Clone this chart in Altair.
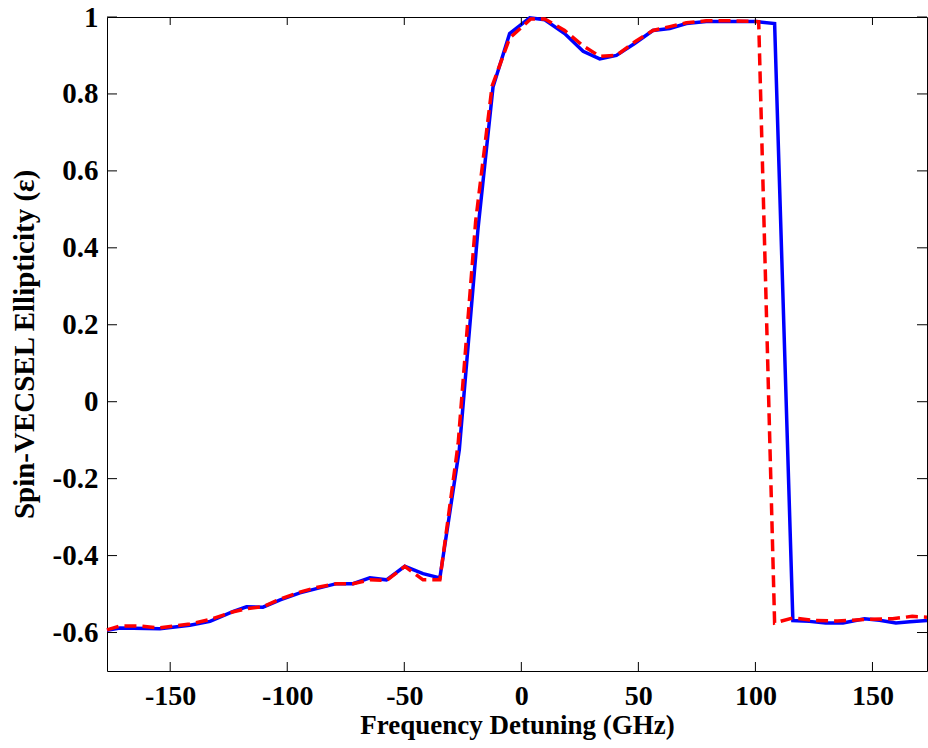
import altair as alt
import pandas as pd

# Blue solid curve
x_blue = [-177, -171.5, -154.4, -141.6, -133, -123, -117.4, -110.4, -103, -94.6,
          -87.5, -79, -71.9, -64.7, -57.6, -49.8, -42, -34.8, -26.5, -18.5,
          -12.1, -5, 3.6, 10, 18.5, 26.4, 33.5, 40.6, 48.4, 56.2,
          63.4, 70.5, 79, 90, 100.4, 108.2, 116, 123, 130, 137.4,
          146.6, 153, 160, 166, 173.3]
y_blue = [-0.594, -0.588, -0.590, -0.581, -0.571, -0.545, -0.533, -0.534, -0.515, -0.497,
          -0.486, -0.473, -0.473, -0.458, -0.463, -0.428, -0.447, -0.458, -0.125, 0.45,
          0.818, 0.957, 0.998, 0.993, 0.957, 0.911, 0.891, 0.900, 0.931, 0.965,
          0.970, 0.983, 0.988, 0.988, 0.988, 0.983, -0.569, -0.571, -0.575, -0.575,
          -0.564, -0.568, -0.575, -0.572, -0.569]

# Red dashed curve
x_red = [-177, -171.5, -163, -154.4, -141.6, -133, -123, -117.4, -110.4, -103,
         -94.6, -87.5, -79, -71.9, -64.7, -57.6, -49.8, -42, -34.8, -27,
         -19.5, -12.5, -5, 4, 10, 18.5, 26.4, 33.5, 40.6, 48.4,
         56.2, 63.4, 70.5, 79, 90, 101.4, 108.2, 116, 125.7, 135,
         146.6, 158.6, 167, 173.3]
y_red = [-0.593, -0.583, -0.583, -0.588, -0.578, -0.566, -0.546, -0.538, -0.533, -0.513,
         -0.495, -0.483, -0.473, -0.473, -0.463, -0.465, -0.428, -0.463, -0.463, -0.11,
         0.47, 0.82, 0.945, 0.995, 0.995, 0.965, 0.925, 0.898, 0.900, 0.935,
         0.965, 0.975, 0.985, 0.990, 0.990, 0.988, -0.575, -0.562, -0.569, -0.570,
         -0.566, -0.564, -0.558, -0.560]

x_ticks = [-150, -100, -50, 0, 50, 100, 150]
y_ticks = [-0.6, -0.4, -0.2, 0, 0.2, 0.4, 0.6, 0.8, 1]

W, H = 820, 654
FONT = "Liberation Serif"

blue_df = pd.DataFrame({"x": x_blue, "y": y_blue})
red_df = pd.DataFrame({"x": x_red, "y": y_red})
xt_df = pd.DataFrame({"x": x_ticks})
yt_df = pd.DataFrame({"y": y_ticks})

xs = alt.Scale(domain=[-177, 173.3], nice=False, zero=False)
ys = alt.Scale(domain=[-0.7, 1], nice=False, zero=False)

minus_fix = "replace(datum.label, '\u2212', '-')"

xaxis = alt.Axis(values=x_ticks, ticks=False, domain=False, grid=False, format="d",
                 labelFont=FONT, labelFontSize=28, labelFontWeight="bold",
                 labelColor="black", labelPadding=11, labelFlush=False,
                 labelOverlap=False, labelExpr=minus_fix,
                 title="Frequency Detuning (GHz)", titleFont=FONT,
                 titleFontSize=27, titleFontWeight="bold", titleColor="black",
                 titleBaseline="alphabetic", titleY=62)
yaxis = alt.Axis(values=y_ticks, ticks=False, domain=False, grid=False, format="~g",
                 labelFont=FONT, labelFontSize=29, labelFontWeight="bold",
                 labelColor="black", labelPadding=9, labelFlush=False,
                 labelOverlap=False, labelExpr=minus_fix,
                 title="Spin-VECSEL Ellipticity (\u03b5)", titleFont=FONT,
                 titleFontSize=29, titleFontWeight="bold", titleColor="black",
                 titleBaseline="alphabetic", titleX=-74, titleY=H / 2,
                 titleAngle=270, titleAlign="center")

blue = alt.Chart(blue_df).mark_line(color="#0000FF", strokeWidth=3.5).encode(
    x=alt.X("x:Q", scale=xs, axis=xaxis),
    y=alt.Y("y:Q", scale=ys, axis=yaxis),
)
red = alt.Chart(red_df).mark_line(color="#FF0000", strokeWidth=3.5,
                                  strokeDash=[12, 6]).encode(
    x="x:Q", y="y:Q")

tick_bottom = alt.Chart(xt_df).mark_rule(color="black", strokeWidth=1).encode(
    x="x:Q", y=alt.value(H), y2=alt.value(H - 9))
tick_top = alt.Chart(xt_df).mark_rule(color="black", strokeWidth=1).encode(
    x="x:Q", y=alt.value(0), y2=alt.value(8))
tick_left = alt.Chart(yt_df).mark_rule(color="black", strokeWidth=1).encode(
    y="y:Q", x=alt.value(0), x2=alt.value(10))
tick_right = alt.Chart(yt_df).mark_rule(color="black", strokeWidth=1).encode(
    y="y:Q", x=alt.value(W), x2=alt.value(W - 10))

chart = alt.layer(blue, red, tick_bottom, tick_top, tick_left, tick_right).properties(
    width=W, height=H,
    autosize=alt.AutoSizeParams(type="none"),
    padding={"left": 107, "top": 17, "right": 1, "bottom": 77},
    background="white",
).configure_view(stroke="black", strokeWidth=1)

chart.save("out.html", embed_options={"renderer": "svg", "actions": False})
